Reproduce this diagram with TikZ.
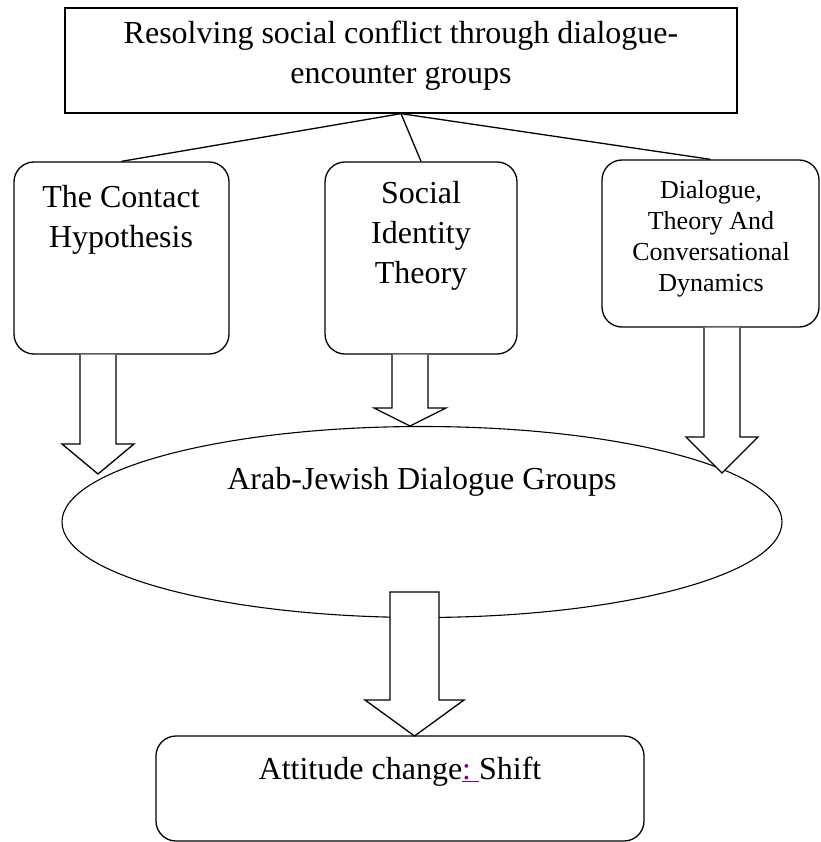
\documentclass[tikz,border=0pt]{standalone}
\usepackage{fontspec}
\setmainfont{Liberation Serif}
\usetikzlibrary{positioning}
\usetikzlibrary{calc}
\usetikzlibrary{shapes.geometric}
\definecolor{linkpurple}{RGB}{128,0,128}

\begin{document}
\begin{tikzpicture}[x=1pt, y=1pt, line width=1.3pt,
        box/.style={rectangle, draw, inner sep=0pt},
        roundbox/.style={rectangle, rounded corners=20pt, draw, inner sep=0pt},
        words/.style={align=center, inner sep=0pt, font=\fontsize{32}{40}\selectfont},
        smallwords/.style={align=center, inner sep=0pt, font=\fontsize{26}{31}\selectfont},
        fat/.style={draw, fill=white, line join=miter}]
        \useasboundingbox (0,0) rectangle (820,-842);
        % boxes
        \node[box, minimum width=672pt, minimum height=105pt](top) at (401,-60.5) {};
        \node[roundbox, minimum width=215pt, minimum height=192pt](contact) at (121.5,-258) {};
        \node[roundbox, minimum width=192pt, minimum height=192pt](identity) at (421,-258) {};
        \node[roundbox, minimum width=217pt, minimum height=167pt](dialogue) at (710.5,-243.5) {};
        \node[ellipse, draw, line width=1.1pt, minimum width=720pt, minimum height=191pt](groups) at (422,-522) {};
        \node[roundbox, minimum width=488pt, minimum height=105pt](shift) at (400,-788.5) {};
        % texts
        \node[words](toptext) at (401,-56) {Resolving social conflict through dialogue-\\encounter groups};
        \node[words](contacttext) at (121,-220) {The Contact\\Hypothesis};
        \node[words](identitytext) at (421,-236) {Social\\Identity\\Theory};
        \node[smallwords](dialoguetext) at (711,-239) {Dialogue,\\Theory And\\Conversational\\Dynamics};
        \node[words](groupstext) at (422,-482) {Arab-Jewish Dialogue Groups};
        \node[words](shifttext) at (400,-772) {Attitude change\textcolor{linkpurple}{\underline{:\ }}Shift};
        % lines
        \draw (top.south) -- (contact.north);
        \draw (top.south) -- (identity.north);
        \draw (top.south) -- (dialogue.north);
        % block arrows
        \coordinate (t1) at (98,-474);
        \coordinate (t2) at (410,-426);
        \coordinate (t3) at (722,-473);
        \coordinate (b0) at (414.5,-592);
        \coordinate (t4) at (414.5,-736);
        \draw[fat] ($(t1 |- contact.south)+(-18,0)$) |- ($(t1)+(-36,30)$) -- (t1) -- ($(t1)+(36,30)$) -| ($(t1 |- contact.south)+(18,0)$);
        \draw[fat] ($(t2 |- identity.south)+(-18,0)$) |- ($(t2)+(-36,18)$) -- (t2) -- ($(t2)+(36,18)$) -| ($(t2 |- identity.south)+(18,0)$);
        \draw[fat] ($(t3 |- dialogue.south)+(-18,0)$) |- ($(t3)+(-36,36)$) -- (t3) -- ($(t3)+(36,36)$) -| ($(t3 |- dialogue.south)+(18,0)$);
        \draw[fat] ($(b0)+(-24.5,0)$) |- ($(t4)+(-49.5,36)$) -- (t4) -- ($(t4)+(49.5,36)$) -| ($(b0)+(24.5,0)$) -- cycle;
\end{tikzpicture}
\end{document}
